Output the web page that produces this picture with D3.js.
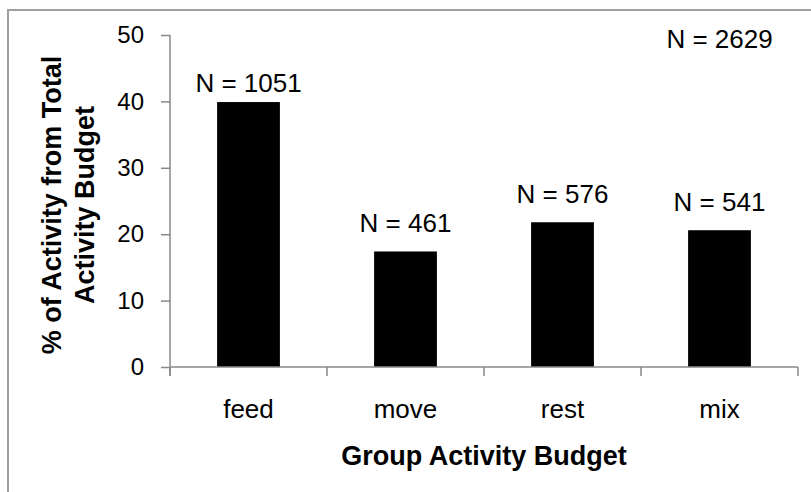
<!DOCTYPE html>
<html>
<head>
<meta charset="utf-8">
<script src="https://cdn.jsdelivr.net/npm/d3@7"></script>
<style>
  body { margin: 0; background: #fff; }
  text { font-family: Arial, "Liberation Sans", sans-serif; fill: #000; }
</style>
</head>
<body>
<script>
// chart values
const categories = ['feed', 'move', 'rest', 'mix']
const percents = [39.9, 17.4, 21.8, 20.6]
const counts = [1051, 461, 576, 541]
const total = 2629
const yTicks = [0, 10, 20, 30, 40, 50]

const w = 811
const h = 492

const svg = d3.select('body')
    .append('svg')
    .attr('width', w)
    .attr('height', h)

// outer frame (runs off the right and bottom edge)
svg.append('rect')
    .attr('x', 8)
    .attr('y', 10)
    .attr('width', w)
    .attr('height', h)
    .attr('fill', 'none')
    .attr('stroke', '#a0a0a0')
    .attr('stroke-width', 2)

const plotL = 170, plotR = 798, plotT = 35, plotB = 367

const yScale = d3.scaleLinear()
    .domain([0, 50])
    .range([plotB, plotT])

const xScale = d3.scaleBand()
    .domain(categories)
    .range([plotL, plotR])

const bw = xScale.bandwidth()

// bars
svg.selectAll('rect.bar')
    .data(categories)
    .enter()
    .append('rect')
    .attr('class', 'bar')
    .attr('fill', '#000')
    .attr('x', d => xScale(d) + bw * 0.3)
    .attr('width', bw * 0.4)
    .attr('y', (d, i) => yScale(percents[i]))
    .attr('height', (d, i) => plotB - yScale(percents[i]))

// y axis
const yAxis = svg.append('g')
    .attr('transform', `translate(${plotL},0)`)
    .call(d3.axisLeft(yScale).tickValues(yTicks).tickSize(9).tickPadding(17))
yAxis.select('.domain').remove()
yAxis.append('line')
    .attr('x1', 0).attr('x2', 0)
    .attr('y1', plotT).attr('y2', plotB + 9)
yAxis.selectAll('line')
    .attr('stroke', '#888')
    .attr('stroke-width', 1.5)
yAxis.selectAll('text')
    .attr('font-size', 24)
    .attr('font-family', 'Arial, "Liberation Sans", sans-serif')
    .attr('fill', '#000')

// x axis: line with ticks at the category boundaries
const xAxis = svg.append('g')
xAxis.append('line')
    .attr('x1', plotL).attr('x2', plotR)
    .attr('y1', plotB).attr('y2', plotB)
const bounds = categories.map(c => xScale(c)).concat([plotR])
xAxis.selectAll('line.tick')
    .data(bounds)
    .enter()
    .append('line')
    .attr('class', 'tick')
    .attr('x1', d => d).attr('x2', d => d)
    .attr('y1', plotB).attr('y2', plotB + 9)
xAxis.selectAll('line')
    .attr('stroke', '#888')
    .attr('stroke-width', 1.5)

xAxis.selectAll('text.cat')
    .data(categories)
    .enter()
    .append('text')
    .attr('class', 'cat')
    .attr('x', d => xScale(d) + bw / 2)
    .attr('y', 418)
    .attr('text-anchor', 'middle')
    .attr('font-size', 26)
    .text(d => d)

// N labels above bars
svg.selectAll('text.n')
    .data(categories)
    .enter()
    .append('text')
    .attr('class', 'n')
    .attr('x', d => xScale(d) + bw / 2)
    .attr('y', (d, i) => yScale(percents[i]) - (i === 0 ? 10 : 19))
    .attr('text-anchor', 'middle')
    .attr('font-size', 26)
    .text((d, i) => 'N = ' + counts[i])

svg.append('text')
    .attr('x', xScale('mix') + bw / 2)
    .attr('y', 48)
    .attr('text-anchor', 'middle')
    .attr('font-size', 26)
    .text('N = ' + total)

// axis titles
svg.append('text')
    .attr('x', (plotL + plotR) / 2)
    .attr('y', 465)
    .attr('text-anchor', 'middle')
    .attr('font-size', 27)
    .attr('font-weight', 'bold')
    .text('Group Activity  Budget')

const yt = svg.append('text')
    .attr('transform', 'translate(61,205) rotate(-90)')
    .attr('text-anchor', 'middle')
    .attr('font-size', 27)
    .attr('font-weight', 'bold')
yt.append('tspan').attr('x', 0).attr('y', 0).text('% of Activity from Total')
yt.append('tspan').attr('x', 0).attr('y', 33).text('Activity Budget')
</script>
</body>
</html>
